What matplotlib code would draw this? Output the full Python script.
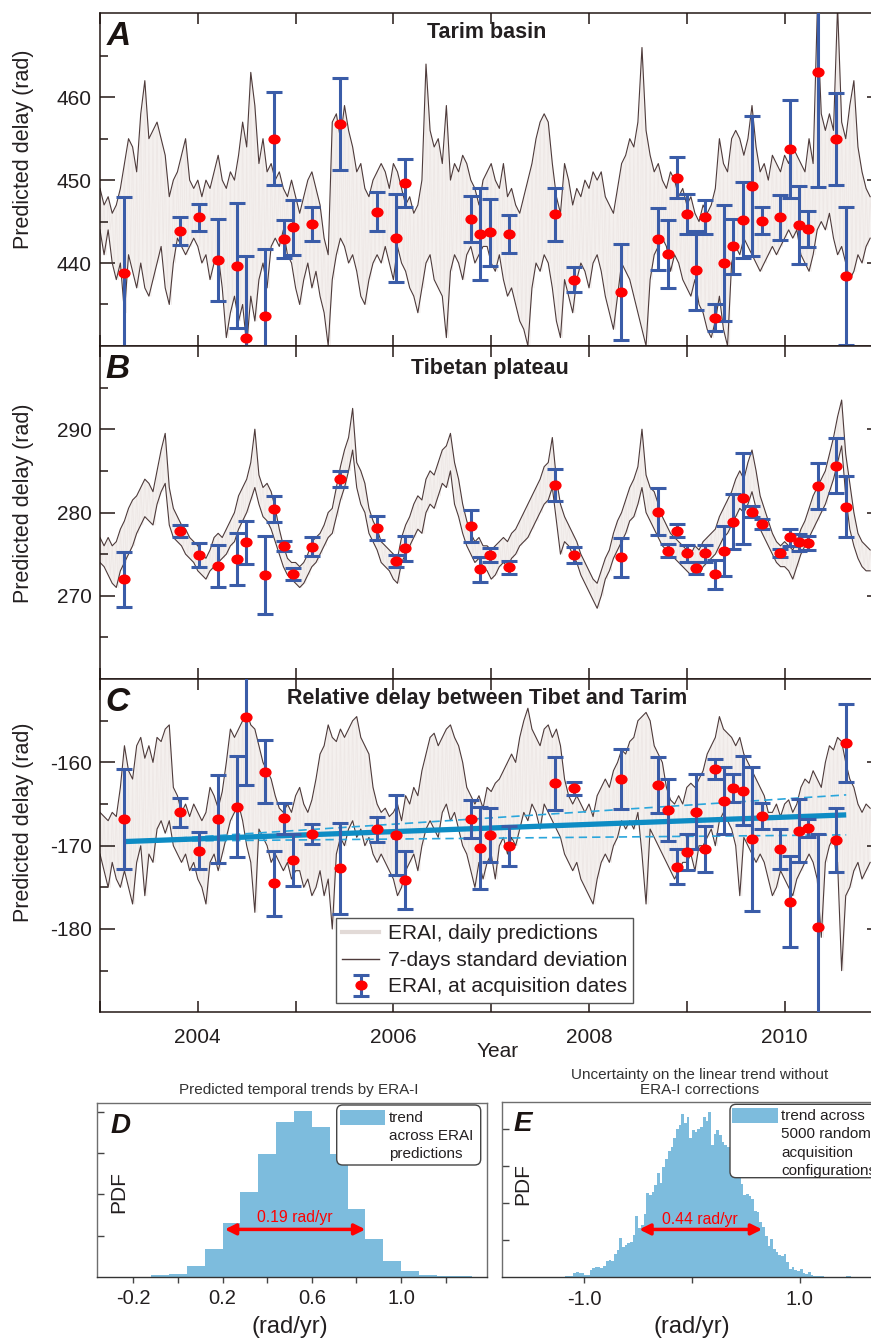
import numpy as np
import matplotlib
matplotlib.use("Agg")
import matplotlib.pyplot as plt
from matplotlib.path import Path
from matplotlib.patches import FancyBboxPatch, Rectangle
from matplotlib.lines import Line2D
from matplotlib.ticker import MultipleLocator, FuncFormatter, FixedLocator

plt.rcParams['font.family'] = ['Liberation Sans', 'DejaVu Sans']
plt.rcParams['axes.unicode_minus'] = False

W, H = 871, 1340

# ---- acquisition dates (decimal years) and ERAI values at those dates
acq_years = [2003.248, 2003.823, 2004.015, 2004.206, 2004.398, 2004.494, 2004.685, 2004.781,
             2004.877, 2004.973, 2005.164, 2005.452, 2005.835, 2006.027, 2006.123, 2006.793,
             2006.889, 2006.985, 2007.177, 2007.656, 2007.847, 2008.326, 2008.710, 2008.806,
             2008.901, 2008.997, 2009.093, 2009.189, 2009.285, 2009.380, 2009.476, 2009.572,
             2009.668, 2009.764, 2009.955, 2010.051, 2010.147, 2010.243, 2010.339, 2010.530,
             2010.626]

tarim_val = [438.8, 443.9, 445.5, 440.4, 439.7, 430.9, 433.6, 455.0, 442.9, 444.3, 444.7,
             456.8, 446.2, 443.0, 449.7, 445.3, 443.5, 443.7, 443.5, 445.9, 438.0, 436.5,
             442.9, 441.1, 450.3, 445.9, 439.1, 445.5, 433.4, 440.0, 442.0, 445.2, 449.3,
             445.1, 445.5, 453.8, 444.6, 444.1, 463.1, 455.0, 438.4]
tarim_err = [9.2, 1.7, 1.65, 4.95, 7.5, 9.9, 8.1, 5.6, 2.25, 3.3, 2.1, 5.55, 2.35, 5.3, 2.9,
             2.8, 5.6, 4.0, 2.3, 3.2, 1.5, 5.8, 3.7, 4.1, 2.5, 2.4, 4.75, 2.05, 1.6, 7.0, 3.3,
             4.6, 8.45, 1.65, 2.75, 5.9, 4.75, 2.2, 13.9, 5.55, 8.35]

tibet_val = [272.0, 277.8, 274.9, 273.6, 274.4, 276.4, 272.5, 280.4, 276.0, 272.6, 275.9,
             284.0, 278.1, 274.2, 275.7, 278.4, 273.2, 274.9, 273.4, 283.3, 274.9, 274.6,
             280.1, 275.4, 277.8, 275.1, 273.3, 275.1, 272.6, 275.4, 278.9, 281.7, 280.1,
             278.6, 275.1, 277.0, 276.4, 276.3, 283.2, 285.6, 280.7]
tibet_err = [3.3, 0.7, 1.45, 2.5, 3.1, 2.55, 4.65, 1.6, 0.6, 0.75, 1.15, 0.95, 1.45, 0.7, 1.5,
             1.9, 1.5, 0.8, 0.75, 1.95, 0.95, 2.35, 2.8, 0.8, 0.8, 1.0, 0.7, 1.0, 1.75, 3.0,
             3.3, 5.5, 0.7, 0.6, 0.5, 1.05, 1.0, 0.85, 2.75, 3.3, 3.7]

rel_val = [-166.8, -166.0, -170.6, -166.8, -165.3, -154.5, -161.1, -174.5, -166.7, -171.7,
           -168.6, -172.7, -168.0, -168.7, -174.1, -166.8, -170.3, -168.7, -170.0, -162.5,
           -163.1, -162.0, -162.7, -165.7, -172.5, -170.8, -165.9, -170.4, -160.8, -164.6,
           -163.1, -163.4, -169.2, -166.4, -170.4, -176.7, -168.2, -167.9, -179.8, -169.3,
           -157.7]
rel_err = [5.95, 1.7, 2.25, 5.25, 6.05, 8.2, 3.8, 3.9, 1.85, 3.1, 1.25, 5.45, 1.5, 4.8, 3.5,
           2.3, 4.9, 3.2, 2.4, 3.2, 0.8, 3.55, 3.35, 3.7, 2.05, 2.15, 4.5, 2.75, 1.15, 4.05,
           1.65, 4.15, 8.6, 1.55, 2.4, 5.5, 3.75, 1.1, 11.2, 3.8, 4.7]

# linear trend through panel C (fit and its bounds)
trend_years = [2003.26, 2010.63]
trend_mid = [-169.5, -166.3]
trend_up = [-169.5, -163.9]
trend_lo = [-169.5, -168.7]

# ---- upper / lower envelope of the daily predictions (every 1/24 yr from 2003.0)
band_start = 2003.0
band_step = 1 / 24

tarim_hi = [449, 447, 448, 446, 447, 449, 452, 455, 454, 451,
            458, 462, 455, 456, 457, 455, 453, 448, 450, 451,
            453, 455, 450, 449, 450, 448, 450, 449, 451, 453,
            450, 449, 451, 450, 453, 457, 454, 463, 459, 452,
            455, 451, 452, 450, 451, 449, 448, 450, 448, 446,
            448, 450, 451, 449, 447, 443, 441, 457, 458, 455,
            459, 456, 454, 451, 452, 449, 448, 450, 451, 452,
            451, 449, 452, 451, 449, 447, 448, 446, 447, 450,
            464, 456, 454, 455, 452, 459, 450, 452, 451, 453,
            452, 450, 449, 447, 450, 451, 452, 450, 449, 452,
            448, 449, 447, 446, 448, 450, 452, 455, 457, 458,
            457, 452, 448, 446, 452, 450, 447, 449, 448, 450,
            449, 451, 450, 451, 448, 447, 446, 449, 452, 453,
            455, 454, 457, 466, 456, 453, 451, 452, 450, 449,
            451, 450, 448, 449, 447, 448, 446, 445, 447, 446,
            447, 449, 455, 452, 451, 455, 456, 455, 453, 455,
            459, 454, 451, 452, 450, 453, 452, 451, 453, 452,
            454, 453, 452, 451, 455, 452, 470, 458, 456, 458,
            456, 471, 457, 455, 459, 462, 454, 451, 449, 448]
tarim_lo = [444, 441, 444, 440, 438, 440, 434, 441, 439, 437,
            440, 437, 436, 438, 440, 442, 437, 435, 440, 443,
            442, 441, 442, 443, 442, 440, 441, 438, 440, 441,
            437, 431, 434, 436, 433, 435, 430, 436, 433, 438,
            440, 437, 442, 443, 442, 444, 441, 440, 437, 435,
            438, 440, 437, 439, 436, 434, 430, 438, 441, 443,
            442, 440, 441, 439, 436, 435, 438, 440, 441, 440,
            442, 440, 438, 442, 440, 439, 437, 436, 434, 437,
            440, 441, 438, 437, 436, 431, 439, 441, 440, 438,
            441, 442, 440, 441, 442, 442, 440, 439, 441, 438,
            436, 437, 435, 433, 432, 430, 437, 440, 439, 441,
            440, 437, 433, 431, 438, 436, 434, 438, 440, 439,
            437, 440, 441, 439, 436, 434, 432, 436, 440, 439,
            438, 436, 434, 432, 430, 438, 441, 442, 443, 442,
            439, 441, 440, 438, 437, 436, 438, 435, 434, 432,
            431, 433, 436, 432, 430, 440, 442, 441, 443, 442,
            441, 440, 439, 440, 441, 442, 441, 442, 443, 444,
            443, 444, 441, 440, 439, 441, 444, 445, 444, 446,
            443, 441, 442, 440, 438, 439, 441, 440, 442, 443]

tibet_hi = [277, 276, 277, 276, 276.5, 278, 279, 280.5, 281.5, 282,
            283, 284, 283.5, 282.5, 285, 287.5, 289.5, 283, 280.5, 279.5,
            278.5, 278, 277, 276.5, 276, 275, 274.5, 275.5, 277, 277.5,
            277, 278, 279, 280, 282, 283, 284, 286, 290, 284.5,
            283, 283.5, 282.5, 280.5, 278, 276, 274.5, 274, 274, 273.5,
            274, 275, 276.5, 277, 277.5, 278.5, 280, 280.5, 283, 285.5,
            287.5, 289, 292.5, 286, 285, 283.5, 280.5, 279, 278, 276.5,
            276, 275.5, 275, 274.5, 277, 278.5, 279.5, 281, 282, 281.5,
            284, 285, 284.5, 286, 287.5, 288, 289.5, 286, 284, 281,
            279, 277.5, 276.5, 277, 276, 276, 275.5, 276, 276.5, 277,
            276.5, 277.5, 278, 279, 280, 281, 282, 283, 284, 285.5,
            286, 289, 284, 281, 279.5, 278.5, 277.5, 276.5, 275, 274,
            273, 272, 271.5, 273, 274.5, 275.5, 277.5, 279, 280, 281.5,
            283, 284, 285.5, 290, 284.5, 283, 282.5, 281, 279.5, 278.5,
            277.5, 277, 276.5, 276, 275.5, 275, 276, 275.5, 276.5, 277,
            277.5, 278, 279.5, 280.5, 281.5, 282.5, 284, 285, 284, 286,
            287.5, 285, 282, 280.5, 279, 277.5, 276.5, 276, 276.5, 276,
            275.5, 276.5, 278, 279, 280.5, 282, 283, 284, 285, 287,
            289, 291.5, 293.5, 287, 283.5, 280, 277.5, 276.5, 276, 275.5]
tibet_lo = [274, 273.5, 272.5, 271.5, 271, 273, 274, 275, 276, 277.5,
            278.5, 279.5, 279, 278.5, 281, 282.5, 283.5, 278.5, 277, 276.5,
            276, 275, 274.5, 274, 273, 272.5, 272, 273, 273.5, 274,
            274.5, 275, 276, 276.5, 278, 279, 280, 281.5, 283, 281,
            279.5, 279, 278, 276.5, 275, 273.5, 272.5, 272, 271.5, 271,
            271.5, 272.5, 273.5, 274, 275, 276, 277, 277.5, 279.5, 281.5,
            283, 285, 287.5, 283, 281, 280, 277.5, 276.5, 275.5, 274,
            273.5, 273, 272, 271.5, 274, 275, 276, 277, 278, 277.5,
            280, 281, 280.5, 282, 283.5, 283, 285, 281, 279.5, 277.5,
            276, 275, 274, 274.5, 273.5, 273, 272, 272.5, 273.5, 274,
            273.5, 274.5, 275, 276, 276.5, 277, 278, 279, 280, 281,
            281.5, 283, 279, 275, 276.5, 276, 275, 274, 272.5, 271.5,
            270.5, 269.5, 268.5, 270, 272, 273, 274.5, 275.5, 276.5, 277.5,
            279, 279.5, 281, 283, 280, 279, 278, 277, 276, 275.5,
            275, 274.5, 274, 273.5, 273, 272.5, 273, 272.5, 273.5, 274,
            274.5, 275, 276, 277, 277.5, 278.5, 279.5, 280.5, 280, 281,
            282.5, 280.5, 278, 277, 276, 275, 274, 273.5, 273.5, 273,
            272, 273.5, 275, 276, 277, 278, 279, 280, 281, 282.5,
            284, 286, 288, 282, 278, 276, 274.5, 273.5, 273, 273]

rel_hi = [-166, -166.5, -167, -166, -166.5, -163, -158, -161, -162, -158,
          -157, -159.5, -158, -160, -157, -157.5, -156, -155.5, -163, -164,
          -166, -165, -166.5, -165, -166, -167, -166, -163, -164, -165.5,
          -163.5, -160, -156, -157, -156, -155, -154, -155.5, -156, -158,
          -160, -161, -162, -164, -165.5, -166, -165, -166, -164, -163,
          -165, -166, -164.5, -162, -159, -158, -155.5, -157, -157.5, -156,
          -157, -156, -155, -154.5, -157, -158, -159, -163, -165, -166,
          -165.5, -166.5, -166, -165, -167, -164, -165, -163, -164, -161,
          -159, -157, -156.5, -158, -157, -156, -155.5, -157, -158, -160,
          -163, -164, -165, -164, -165.5, -163, -163.5, -162.5, -162, -161,
          -160, -159, -160, -157, -155, -153.5, -156, -157, -158, -156,
          -155.5, -157, -156, -158, -162, -164, -165, -164, -165, -166,
          -165, -166.5, -164, -163, -162, -163, -161, -160, -158.5, -159,
          -157.5, -157, -155, -154.5, -154, -155, -158, -159, -160, -163,
          -164.5, -165, -164, -165, -163, -162.5, -163, -162, -161, -159,
          -158, -157, -154.5, -156, -156.5, -157, -158, -157, -159, -160,
          -161, -162, -163, -164, -166, -166, -165, -166.5, -165, -164.5,
          -166, -165, -163, -162, -162.5, -161, -162, -163, -160, -158,
          -158.5, -157, -157.5, -160, -162, -163, -165, -166, -165, -165.5]
rel_lo = [-171, -173, -175, -172, -174, -175, -173, -175, -177, -172,
          -170, -176, -171, -172, -168, -167, -168.5, -167, -170, -171,
          -172, -171, -173, -172, -174, -175, -177, -172, -171, -173,
          -171, -169, -167, -166, -165, -167, -170, -172, -178, -168,
          -169, -170, -172, -171, -172, -173, -172, -174, -173, -173,
          -175, -174, -176, -175, -173, -176, -174, -180, -171, -169,
          -170, -168, -167, -169, -168, -170, -169, -171, -172, -171,
          -172, -173, -174, -176, -175, -173, -172, -171, -173, -170,
          -168, -167, -168, -169, -166, -165, -167, -166, -168, -170,
          -171, -173, -175, -172, -174, -172, -171, -174, -170, -169,
          -171, -169, -170, -168, -166, -167, -165, -166, -168, -165,
          -166, -167, -168, -169, -171, -172, -173, -172, -174, -175,
          -176, -177, -174, -172, -171, -172, -170, -169, -167, -168,
          -167, -168, -166, -171, -177, -168, -169, -170, -171, -172,
          -173, -174, -173, -172, -172, -171, -173, -170, -170, -169,
          -168, -170, -167, -166, -167, -168, -170, -176, -169, -170,
          -171, -172, -171, -172, -174, -176, -175, -173, -174, -175,
          -176, -174, -173, -172, -171, -172, -174, -181, -172, -170,
          -169, -172, -185, -176, -175, -173, -172, -174, -173, -172]

# ---- histograms (PDF)
d_first_edge = -0.2
d_bin_width = 0.08
d_pdf = [0.0, 0.04, 0.065, 0.26, 0.67, 1.31, 2.06, 2.98, 3.76, 4.03, 3.65, 2.98, 1.65,
         0.92, 0.38, 0.15, 0.04, 0.02, 0.01]
d_spread = [0.21, 0.84]

e_first_edge = -1.5
e_bin_width = 0.025
e_pdf = [0, 0.02, 0.02, 0.01, 0, 0, 0, 0, 0, 0,
         0.01, 0.02, 0.02, 0.03, 0.04, 0.04, 0.12, 0.13, 0.12, 0.11,
         0.07, 0.06, 0.2, 0.24, 0.27, 0.27, 0.24, 0.3, 0.43, 0.47,
         0.45, 0.63, 0.74, 1.05, 0.81, 0.88, 0.92, 0.95, 1.14, 1.66,
         1.32, 1.4, 1.71, 2.26, 2.22, 2.3, 2.49, 2.8, 2.54, 2.96,
         3.2, 3.4, 3.5, 3.75, 4.0, 4.1, 4.4, 4.15, 4.31, 3.75,
         3.97, 3.92, 4.0, 4.05, 4.31, 4.22, 4.45, 3.57, 3.86, 3.97,
         3.84, 3.64, 3.57, 3.5, 3.3, 3.1, 2.9, 2.7, 2.52, 2.23,
         2.25, 2.2, 2.1, 1.8, 1.75, 1.48, 1.35, 1.1, 0.85, 1.03,
         0.76, 0.67, 0.6, 0.58, 0.63, 0.4, 0.22, 0.27, 0.2, 0.18,
         0.22, 0.12, 0.09, 0.13, 0.06, 0.04, 0.04, 0.03, 0.03, 0.02,
         0.01, 0, 0, 0, 0, 0, 0, 0.04, 0.03, 0]
e_spread = [-0.49, 0.65]

# ---------------------------------------------------------------- styling
INK = '#231815'
FILL = '#f4f0ee'
DAILY = '#eee8e6'
STD = '#4e3b3b'
RED = '#ff0000'
BAR = '#3a5ca8'
TREND = '#0e8cc4'
TREND2 = '#2aa6dc'
HIST = '#7dbcdd'

band_t = band_start + band_step * np.arange(len(tarim_hi))

circ = Path.unit_circle()
ell = Path(circ.vertices * np.array([1.25, 1.0]), circ.codes)


def fx(px):
    return px / W


def fy(py):
    return 1 - py / H


fig = plt.figure(figsize=(W / 100, H / 100), dpi=100)

ax_w = 782.4 / W
ax_h = 333.2 / H
ax_a = fig.add_axes([fx(100), fy(345.9), ax_w, ax_h])
ax_b = fig.add_axes([fx(100), fy(679.1), ax_w, ax_h])
ax_c = fig.add_axes([fx(100), fy(1012.3), ax_w, ax_h])


def draw_panel(ax, hi, lo, val, err, ylim, major, minor):
    hi = np.asarray(hi, float)
    lo = np.asarray(lo, float)
    ax.fill_between(band_t, lo, hi, color=FILL, lw=0, zorder=1)
    zx = np.column_stack([band_t, band_t + band_step / 2]).ravel()
    zy = np.column_stack([hi, lo]).ravel()
    ax.plot(zx, zy, color=DAILY, lw=0.6, zorder=1.5)
    ax.plot(band_t, hi, color=STD, lw=0.8, zorder=2)
    ax.plot(band_t, lo, color=STD, lw=0.8, zorder=2)
    eb = ax.errorbar(acq_years, val, yerr=err, linestyle='none', marker=ell, ms=7.8,
                     mfc=RED, mec=RED, ecolor=BAR, elinewidth=2.2,
                     capsize=6, capthick=2.2, zorder=4)
    ax.set_xlim(2003, 2011)
    ax.set_ylim(*ylim)
    ax.xaxis.set_major_locator(MultipleLocator(1))
    ax.yaxis.set_major_locator(FixedLocator(major))
    ax.yaxis.set_minor_locator(FixedLocator(minor))
    ax.tick_params(axis='y', which='major', direction='in', length=10.8, width=1.1,
                   color=INK, left=True, right=True, labelsize=15, pad=6, labelcolor='#231f20')
    ax.tick_params(axis='y', which='minor', direction='in', length=5.8, width=1.1,
                   color=INK, left=True, right=True)
    ax.tick_params(axis='x', which='major', direction='in', length=7.7, width=1.1,
                   color=INK, top=True, bottom=True, labelbottom=False)
    for s in ax.spines.values():
        s.set_color(INK)
        s.set_linewidth(1.1)
    return eb


draw_panel(ax_a, tarim_hi, tarim_lo, tarim_val, tarim_err, (430, 470.2),
           [440, 450, 460], [435, 445, 455, 465])
draw_panel(ax_b, tibet_hi, tibet_lo, tibet_val, tibet_err, (260, 300),
           [270, 280, 290], [265, 275, 285, 295])
eb_c = draw_panel(ax_c, rel_hi, rel_lo, rel_val, rel_err, (-190, -150),
                  [-180, -170, -160], [-185, -175, -165, -155])

ax_c.plot(trend_years, trend_up, color=TREND2, lw=1.2, ls=(0, (5, 3)), zorder=3)
ax_c.plot(trend_years, trend_lo, color=TREND2, lw=1.2, ls=(0, (5, 3)), zorder=3)
ax_c.plot(trend_years, trend_mid, color=TREND, lw=3.8, solid_capstyle='butt', zorder=3.2)

ax_c.tick_params(axis='x', labelbottom=True, labelsize=15, pad=11, labelcolor='#231f20')
ax_c.xaxis.set_major_formatter(FuncFormatter(lambda v, p: '%d' % v if int(round(v)) % 2 == 0 else ''))

h_daily = Line2D([], [], color='#e2dad7', lw=3)
h_std = Line2D([], [], color=STD, lw=1)
leg = ax_c.legend([h_daily, h_std, eb_c],
                  ['ERAI, daily predictions', '7-days standard deviation',
                   'ERAI, at acquisition dates'],
                  loc='lower left', bbox_to_anchor=(0.301, 0.029), borderaxespad=0,
                  fontsize=15, frameon=True, fancybox=False, framealpha=1,
                  edgecolor='#555555', handlelength=1.8, handletextpad=0.4,
                  labelspacing=0.36, borderpad=0.3)
leg.get_frame().set_linewidth(1.0)
leg.set_zorder(10)
for t in leg.get_texts():
    t.set_color('#231f20')

# panel titles, letters and axis labels
for txt, px, py in [('Tarim basin', 487, 37.7), ('Tibetan plateau', 490, 374.3),
                    ('Relative delay between Tibet and Tarim', 487, 704.3)]:
    fig.text(fx(px), fy(py), txt, ha='center', va='baseline', fontsize=15.5,
             fontweight='bold', color='#231f20')
for txt, px, py in [('A', 107, 45), ('B', 105, 378), ('C', 105, 711)]:
    fig.text(fx(px), fy(py), txt, ha='left', va='baseline', fontsize=24,
             fontweight='bold', style='italic', color='#1a1311')
for py in (149, 503, 822):
    fig.text(fx(24), fy(py), 'Predicted delay (rad)', rotation=90, ha='center',
             va='center', fontsize=15.5, color='#231f20')
fig.text(fx(498), fy(1057), 'Year', ha='center', va='baseline', fontsize=15, color='#231f20')

# ---------------------------------------------------------------- histograms
ax_d = fig.add_axes([fx(97), fy(1276.7), 389.7 / W, 174 / H])
ax_e = fig.add_axes([fx(501.7), fy(1277.3), 388.3 / W, 175.6 / H])

d_edges = d_first_edge + d_bin_width * np.arange(len(d_pdf) + 1)
e_edges = e_first_edge + e_bin_width * np.arange(len(e_pdf) + 1)
ax_d.stairs(d_pdf, d_edges, fill=True, color=HIST, lw=0)
ax_e.stairs(e_pdf, e_edges, fill=True, color=HIST, lw=0)

ax_d.set_xlim(-0.363, 1.384)
ax_d.set_ylim(0, 4.23)
ax_d.set_xticks([-0.2, 0.2, 0.6, 1.0])
ax_d.set_xticklabels(['-0.2', '0.2', '0.6', '1.0'])
ax_d.set_xticks([0.0, 0.4, 0.8, 1.2], minor=True)

ax_e.set_xlim(-1.766, 1.836)
ax_e.set_ylim(0, 4.733)
ax_e.set_xticks([-1.0, 1.0])
ax_e.set_xticklabels(['-1.0', '1.0'])
ax_e.set_xticks([0.0], minor=True)

for ax in (ax_d, ax_e):
    ax.set_yticks([1, 2, 3, 4])
    ax.set_yticklabels([])
    ax.tick_params(axis='x', which='both', direction='out', length=4, width=1,
                   color='#444444', labelsize=14.5, pad=5, labelcolor='#231f20')
    ax.tick_params(axis='y', direction='in', length=5, width=1, color='#444444')
    for s in ax.spines.values():
        s.set_color('#6e6e6e')
        s.set_linewidth(1.0)
    ax.spines['bottom'].set_color('#333333')

for ax, spread, level, label, tx, ty in [(ax_d, d_spread, 1.15, '0.19 rad/yr', 0.524, 1.43),
                                         (ax_e, e_spread, 1.29, '0.44 rad/yr', 0.07, 1.57)]:
    ax.annotate('', xy=(spread[1], level), xytext=(spread[0], level),
                arrowprops=dict(arrowstyle='<|-|>', color=RED, lw=2.5,
                                mutation_scale=16, shrinkA=0, shrinkB=0))
    ax.text(tx, ty, label, color=RED, fontsize=11.3, ha='center', va='center')

fig.text(fx(299), fy(1090), 'Predicted temporal trends by ERA-I', ha='center', va='center',
         fontsize=11, color='#333333')
fig.text(fx(700), fy(1082.5), 'Uncertainty on the linear trend without\nERA-I corrections',
         ha='center', va='center', fontsize=11, color='#333333', linespacing=1.05)
fig.text(fx(111), fy(1133), 'D', ha='left', va='baseline', fontsize=20,
         fontweight='bold', style='italic', color='#1a1311')
fig.text(fx(514), fy(1131), 'E', ha='left', va='baseline', fontsize=20,
         fontweight='bold', style='italic', color='#1a1311')
for px, py in [(119, 1192), (523, 1184)]:
    fig.text(fx(px), fy(py), 'PDF', rotation=90, ha='center', va='center',
             fontsize=15, color='#231f20')
for px in (290, 692):
    fig.text(fx(px), fy(1327), '(rad/yr)', ha='center', va='center', fontsize=17,
             color='#231f20')

# hand-drawn legends of the histograms (pixel coordinates -> inches)
tr = fig.dpi_scale_trans


def box(x0, y0, x1, y1):
    p = FancyBboxPatch((x0 / 100, (H - y1) / 100), (x1 - x0) / 100, (y1 - y0) / 100,
                       boxstyle='round,pad=0,rounding_size=0.06', transform=tr,
                       fc='white', ec='#444444', lw=1.0, zorder=20)
    fig.add_artist(p)


def swatch(x0, y0, x1, y1):
    fig.add_artist(Rectangle((x0 / 100, (H - y1) / 100), (x1 - x0) / 100, (y1 - y0) / 100,
                             transform=tr, fc=HIST, ec='none', zorder=21))


box(336.7, 1105, 480.7, 1165)
swatch(340, 1110, 385, 1125)
for line, py in [('trend', 1121.7), ('across ERAI', 1140), ('predictions', 1158.3)]:
    fig.text(fx(389), fy(py), line, ha='left', va='baseline', fontsize=11,
             color='#231f20', zorder=22)

box(730, 1104.3, 900, 1177.7)
swatch(732, 1108, 778, 1123)
for line, py in [('trend across', 1120), ('5000 random', 1138.5), ('acquisition', 1157),
                 ('configurations', 1175.5)]:
    fig.text(fx(781), fy(py), line, ha='left', va='baseline', fontsize=11,
             color='#231f20', zorder=22)

fig.savefig('out.png', dpi=100)
